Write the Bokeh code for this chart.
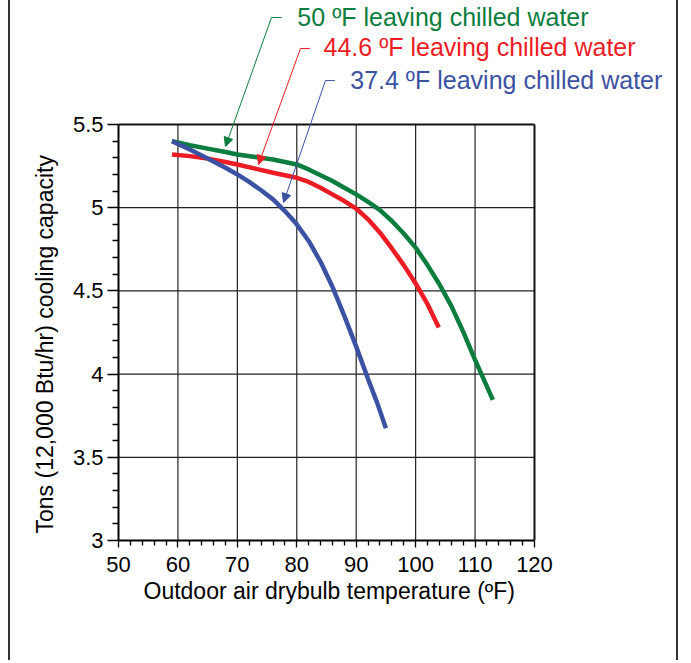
from bokeh.plotting import figure
from bokeh.models import Label, Arrow, NormalHead, FixedTicker, Range1d, Title
from bokeh.embed import file_html
from bokeh.resources import INLINE

# ---- data ----
x_50 = [59, 62, 65, 68, 70, 73, 76, 78, 80, 82, 84, 86, 88, 90, 92, 94, 96, 98, 100, 102, 104, 106, 108, 110, 111.5, 113]
y_50 = [5.40, 5.375, 5.355, 5.335, 5.32, 5.305, 5.29, 5.275, 5.26, 5.23, 5.195, 5.16, 5.12, 5.08, 5.035, 4.985,
        4.92, 4.845, 4.76, 4.655, 4.54, 4.41, 4.255, 4.085, 3.965, 3.845]

x_446 = [59, 62, 65, 68, 70, 73, 76, 78, 80, 82, 84, 86, 88, 90, 92, 94, 96, 98, 100, 102, 103.9]
y_446 = [5.32, 5.31, 5.295, 5.275, 5.26, 5.235, 5.21, 5.195, 5.18, 5.155, 5.12, 5.08, 5.04, 4.995, 4.93, 4.85,
         4.755, 4.655, 4.545, 4.42, 4.28]

x_374 = [59, 62, 65, 68, 70, 72, 74, 76, 78, 80, 82, 84, 86, 88, 90, 92, 93.5, 95]
y_374 = [5.40, 5.35, 5.295, 5.24, 5.20, 5.155, 5.105, 5.05, 4.98, 4.90, 4.80, 4.675, 4.525, 4.35, 4.165, 3.97,
         3.83, 3.675]

x_ticks = [50, 60, 70, 80, 90, 100, 110, 120]
y_ticks = [3, 3.5, 4, 4.5, 5, 5.5]
y_tick_labels = ["3", "3.5", "4", "4.5", "5", "5.5"]

series_labels = ["50 \u00baF leaving chilled water",
                 "44.6 \u00baF leaving chilled water",
                 "37.4 \u00baF leaving chilled water"]
x_title = "Outdoor air drybulb temperature (\u00baF)"
y_title = "Tons (12,000 Btu/hr) cooling capacity"

GREEN = "#0b7d3e"
RED = "#ec1c24"
BLUE = "#3b52a3"
FONT = "Liberation Sans"

X0, X1 = x_ticks[0], x_ticks[-1]
Y0, Y1 = y_ticks[0], y_ticks[-1]

# frame extends over the annotation area (top and right margins) so that
# the callout texts and leader lines are not clipped; axes are bounded.
p = figure(width=670, height=660, output_backend="svg", toolbar_location=None,
           x_range=Range1d(50, 144.57), y_range=Range1d(3, 6.2452),
           min_border_left=108, min_border_right=0, min_border_top=0, min_border_bottom=120)
p.styles = {"margin-left": "8px",
            "border-left": "2px solid #333333", "border-right": "2px solid #333333"}

p.background_fill_color = "white"
p.border_fill_color = "white"
p.outline_line_color = None
p.xgrid.visible = False
p.ygrid.visible = False

# grid lines inside the chart box
gx = x_ticks[1:-1]
p.segment(x0=gx, y0=[Y0] * len(gx), x1=gx, y1=[Y1] * len(gx), line_color="#222222", line_width=1.2)
gy = y_ticks[1:-1]
p.segment(x0=[X0] * len(gy), y0=gy, x1=[X1] * len(gy), y1=gy, line_color="#222222", line_width=1.2)
# top and right edges of the chart box
p.segment(x0=[X0, X1], y0=[Y1, Y1], x1=[X1, X1], y1=[Y1, Y0], line_color="#111111", line_width=2)

# axes
x_minor = [v for v in range(50, 121, 2) if v % 10 != 0]
y_minor = [round(3 + 0.1 * i, 1) for i in range(26) if i % 5 != 0]
p.xaxis.ticker = FixedTicker(ticks=x_ticks, minor_ticks=x_minor)
p.yaxis.ticker = FixedTicker(ticks=y_ticks, minor_ticks=y_minor)
p.xaxis.bounds = (X0, X1)
p.yaxis.bounds = (Y0, Y1)
p.yaxis.major_label_overrides = {t: l for t, l in zip(y_ticks, y_tick_labels)}

for ax in (p.xaxis, p.yaxis):
    ax.axis_line_color = "black"
    ax.axis_line_width = 2
    ax.major_tick_line_color = "black"
    ax.minor_tick_line_color = "black"
    ax.major_tick_line_width = 1.3
    ax.minor_tick_line_width = 1.3
    ax.major_tick_in = 0
    ax.minor_tick_in = 0
    ax.major_label_text_font = FONT
    ax.major_label_text_font_size = "22px"
    ax.major_label_text_color = "black"
p.xaxis.major_tick_out = 7
p.xaxis.minor_tick_out = 5
p.yaxis.major_tick_out = 11
p.yaxis.minor_tick_out = 6
p.xaxis.major_label_standoff = 9
p.yaxis.major_label_standoff = 4

# axis titles (as side-panel titles so they can be placed along the bounded axes)
p.add_layout(Title(text=x_title, align="left", offset=25, text_font=FONT, text_font_size="23px",
                   text_font_style="normal", text_color="black", standoff=3), "below")
p.add_layout(Title(text=y_title, align="left", offset=7, text_font=FONT, text_font_size="23px",
                   text_font_style="normal", text_color="black", standoff=24), "left")

# curves
p.line(x_50, y_50, line_color=GREEN, line_width=4.5)
p.line(x_446, y_446, line_color=RED, line_width=4.5)
p.line(x_374, y_374, line_color=BLUE, line_width=4.5)

# annotations: (text x, text y, elbow start x, elbow end x, elbow y, tip x, tip y)
annots = [
    (80.1, 6.149, 75.75, 77.45, 6.143, 68.0, 5.368, GREEN, series_labels[0]),
    (84.5, 5.963, 80.63, 82.2, 5.957, 73.56, 5.26, RED, series_labels[1]),
    (89.0, 5.770, 84.83, 86.4, 5.764, 77.77, 5.031, BLUE, series_labels[2]),
]
for tx, ty, sx, ex, ey, ax_, ay, col, txt in annots:
    p.add_layout(Label(x=tx, y=ty, text=txt, text_font=FONT, text_font_size="25px",
                       text_color=col, text_baseline="middle", text_align="left"))
    p.add_layout(Arrow(x_start=ex, y_start=ey, x_end=sx, y_end=ey, end=None,
                       line_color=col, line_width=1))
    p.add_layout(Arrow(x_start=sx, y_start=ey, x_end=ax_, y_end=ay,
                       end=NormalHead(size=9, line_color=col, fill_color=col, line_width=1),
                       line_color=col, line_width=1))

open("out.html", "w").write(file_html(p, INLINE))
